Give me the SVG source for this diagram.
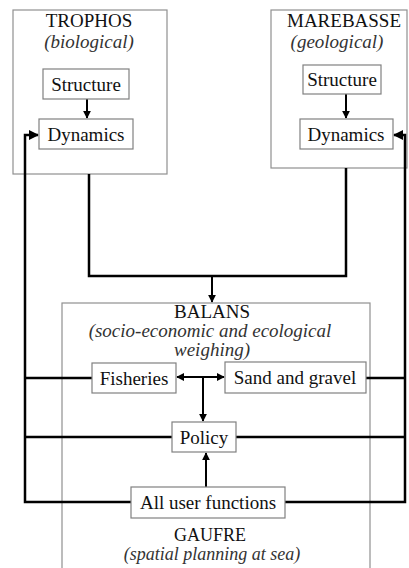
<svg xmlns="http://www.w3.org/2000/svg" width="409" height="568" viewBox="0 0 409 568">
<style>
.box{fill:#fff;stroke:#808080;stroke-width:1.2}
.frame{fill:none;stroke:#909090;stroke-width:1.2}
.t{font-family:"Liberation Serif","Times New Roman",serif;font-size:19px;fill:#111;text-anchor:middle}
.s{font-size:18px}
.i{font-style:italic;fill:#333}
.c{fill:none;stroke:#000;stroke-width:2.5}
</style>
<defs>
<marker id="ah" viewBox="0 0 10 10" refX="9" refY="5" markerWidth="4" markerHeight="4" orient="auto-start-reverse" markerUnits="strokeWidth">
<path d="M0,0 L10,5 L0,10 z" fill="#000"/>
</marker>
</defs>
<rect width="409" height="568" fill="#fff"/>
<g id="trophos">
<rect class="frame" x="13" y="10" width="154" height="164"/>
<text class="t" x="89" y="27">TROPHOS</text>
<text class="t i" x="89" y="48">(biological)</text>
</g>
<g id="marebasse">
<rect class="frame" x="271" y="10" width="136" height="158"/>
<text class="t" x="344" y="27">MAREBASSE</text>
<text class="t i" x="337" y="48">(geological)</text>
</g>
<g id="balans">
<rect class="frame" x="62" y="303" width="308" height="275"/>
<text class="t" x="212" y="318">BALANS</text>
<text class="t i" x="210" y="337">(socio-economic and ecological</text>
<text class="t i" x="212" y="356">weighing)</text>
<text class="t s" x="210" y="541">GAUFRE</text>
<text class="t i s" x="212" y="560">(spatial planning at sea)</text>
</g>
<g id="connectors">
<line class="c" x1="87" y1="99" x2="87" y2="118" marker-end="url(#ah)" style="stroke-width:2"/>
<line class="c" x1="346" y1="94" x2="346" y2="118" marker-end="url(#ah)" style="stroke-width:2"/>
<polyline class="c" points="89,174 89,276 346,276 346,168"/>
<line class="c" x1="212" y1="276" x2="212" y2="302" marker-end="url(#ah)" style="stroke-width:2"/>
<polyline class="c" points="131,502 25,502 25,135 38,135" marker-end="url(#ah)"/>
<line class="c" x1="25" y1="378" x2="92" y2="378"/>
<line class="c" x1="25" y1="437" x2="172" y2="437"/>
<polyline class="c" points="285,502 405,502 405,135 394,135" marker-end="url(#ah)"/>
<line class="c" x1="366" y1="378" x2="405" y2="378"/>
<line class="c" x1="236" y1="437" x2="405" y2="437"/>
<line class="c" x1="177" y1="377" x2="224" y2="377" marker-start="url(#ah)" marker-end="url(#ah)" style="stroke-width:2"/>
<line class="c" x1="203" y1="377" x2="203" y2="421" marker-end="url(#ah)" style="stroke-width:2"/>
<line class="c" x1="206" y1="487" x2="206" y2="453" marker-end="url(#ah)" style="stroke-width:2"/>
</g>
<g id="trophos-structure">
<rect class="box" x="43" y="69" width="86" height="30"/>
<text class="t" x="86" y="91">Structure</text>
</g>
<g id="trophos-dynamics">
<rect class="box" x="39" y="119" width="94" height="30"/>
<text class="t" x="86" y="141">Dynamics</text>
</g>
<g id="marebasse-structure">
<rect class="box" x="303" y="65" width="78" height="29"/>
<text class="t" x="342" y="86">Structure</text>
</g>
<g id="marebasse-dynamics">
<rect class="box" x="300" y="119" width="93" height="30"/>
<text class="t" x="346" y="141">Dynamics</text>
</g>
<g id="fisheries">
<rect class="box" x="92" y="363" width="84" height="30"/>
<text class="t" x="134" y="385">Fisheries</text>
</g>
<g id="sand-and-gravel">
<rect class="box" x="225" y="362" width="141" height="31"/>
<text class="t" x="295" y="384">Sand and gravel</text>
</g>
<g id="policy">
<rect class="box" x="172" y="422" width="64" height="30"/>
<text class="t" x="204" y="444">Policy</text>
</g>
<g id="all-user-functions">
<rect class="box" x="131" y="487" width="154" height="31"/>
<text class="t" x="208" y="509">All user functions</text>
</g>
</svg>
